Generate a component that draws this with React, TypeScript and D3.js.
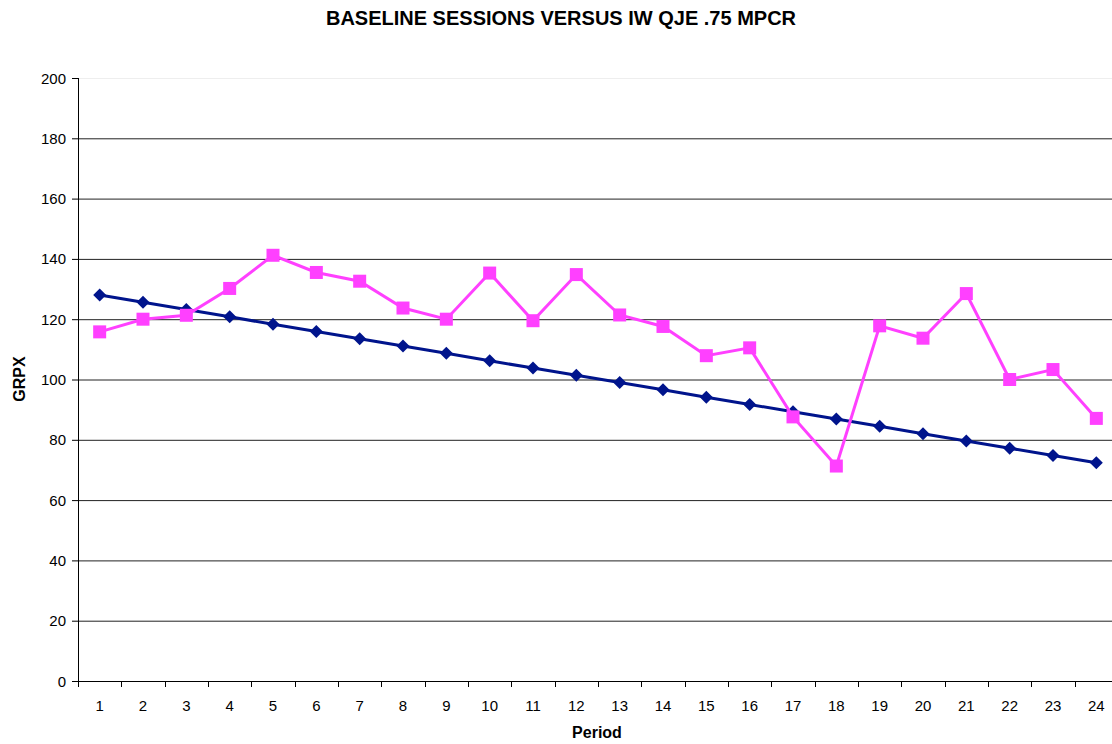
import React from "react";
import * as d3 from "d3";

const periods = Array.from({ length: 24 }, (_, i) => String(i + 1));
const baseline = [128.0, 125.6, 123.2, 120.8, 118.3, 115.9, 113.5, 111.1, 108.7, 106.2, 103.8, 101.4, 99.0, 96.6, 94.1, 91.7, 89.3, 86.9, 84.5, 82.0, 79.6, 77.2, 74.8, 72.4];
const qje = [115.8, 120.0, 121.3, 130.2, 141.2, 135.5, 132.6, 123.7, 120.0, 135.3, 119.5, 134.8, 121.4, 117.6, 107.9, 110.5, 87.6, 71.3, 117.8, 113.7, 128.5, 100.0, 103.3, 87.1];
const yTicks = [0, 20, 40, 60, 80, 100, 120, 140, 160, 180, 200];

const W = 1112, H = 744;
const L = 78, R = 1118, T = 78, B = 681;
const font = "Liberation Sans, Arial, sans-serif";

export default function App() {
  const x = d3.scaleBand<string>().domain(periods).range([L, R]).padding(0);
  const y = d3.scaleLinear().domain([0, 200]).range([B, T]);
  const cx = (i: number) => (x(periods[i]) as number) + x.bandwidth() / 2;
  const line = d3.line<number>().x((_, i) => cx(i)).y((d) => y(d));
  const blue = "#00148C";
  const pink = "#FF40FF";
  return (
    <svg width={W} height={H} style={{ position: "absolute", left: 0, top: 0, background: "#fff" }}>
      <text x={561} y={25} textAnchor="middle" fontFamily={font} fontWeight="bold" fontSize={20}>BASELINE SESSIONS VERSUS IW QJE .75 MPCR</text>
      {yTicks.map((t) => (
        <g key={t}>
          {t > 0 && (
            <line x1={L} x2={R} y1={y(t) + 0.5} y2={y(t) + 0.5} stroke={t === 200 ? "#eee" : "#222"} strokeWidth={1} />
          )}
          <line x1={L - 6} x2={L} y1={y(t) + 0.5} y2={y(t) + 0.5} stroke="#000" />
          <text x={66} y={y(t) + 5.5} textAnchor="end" fontFamily={font} fontSize={15}>{t}</text>
        </g>
      ))}
      <line x1={L + 0.5} x2={L + 0.5} y1={T} y2={B} stroke="#000" />
      <line x1={L} x2={R} y1={B + 0.5} y2={B + 0.5} stroke="#000" />
      {periods.map((p, i) => (
        <g key={p}>
          <line x1={Math.round(x(p) as number) + 0.5} x2={Math.round(x(p) as number) + 0.5} y1={B} y2={B + 6} stroke="#000" />
          <text x={cx(i)} y={711} textAnchor="middle" fontFamily={font} fontSize={15}>{p}</text>
        </g>
      ))}
      <text x={597} y={738} textAnchor="middle" fontFamily={font} fontWeight="bold" fontSize={16}>Period</text>
      <text transform={`translate(25,379) rotate(-90)`} textAnchor="middle" fontFamily={font} fontWeight="bold" fontSize={16}>GRPX</text>
      <path d={line(baseline) || ""} fill="none" stroke={blue} strokeWidth={3} />
      {baseline.map((v, i) => (
        <path key={i} d={`M${cx(i)},${y(v) - 6.5}L${cx(i) + 6.5},${y(v)}L${cx(i)},${y(v) + 6.5}L${cx(i) - 6.5},${y(v)}Z`} fill={blue} />
      ))}
      <path d={line(qje) || ""} fill="none" stroke={pink} strokeWidth={3} />
      {qje.map((v, i) => (
        <rect key={i} x={cx(i) - 6.5} y={y(v) - 6.5} width={13} height={13} fill={pink} />
      ))}
    </svg>
  );
}
